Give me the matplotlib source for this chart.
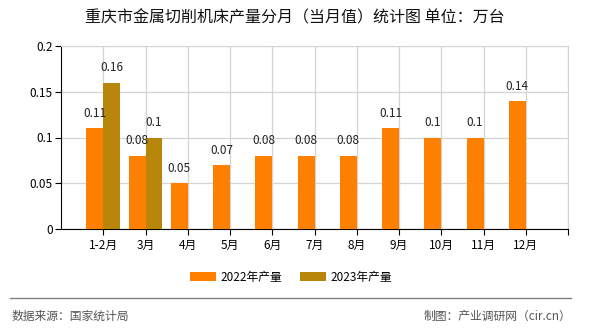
import matplotlib
matplotlib.use("Agg")
import matplotlib.pyplot as plt
import numpy as np

plt.rcParams['font.family'] = ['Noto Sans CJK SC', 'DejaVu Sans']

# === DATA ===
months = ["1-2月", "3月", "4月", "5月", "6月", "7月", "8月", "9月", "10月", "11月", "12月"]
prod_2022 = [0.11, 0.08, 0.05, 0.07, 0.08, 0.08, 0.08, 0.11, 0.1, 0.1, 0.14]
prod_2023 = [0.16, 0.1]
labels_2022 = ["0.11", "0.08", "0.05", "0.07", "0.08", "0.08", "0.08", "0.11", "0.1", "0.1", "0.14"]
labels_2023 = ["0.16", "0.1"]
yticks = [0, 0.05, 0.1, 0.15, 0.2]
ytick_labels = ["0", "0.05", "0.1", "0.15", "0.2"]

c2022 = "#FF8000"
c2023 = "#B8860B"
grid_c = "#d4d4d4"

fig = plt.figure(figsize=(5.9, 3.3), dpi=100)
ax = fig.add_axes([61 / 590, 1 - 229 / 330, 507 / 590, 183 / 330])

x = np.arange(1, len(months) + 1)
x23 = np.arange(1, len(prod_2023) + 1)
width = 0.4

ax.bar(x - width / 2, prod_2022, width, color=c2022, label="2022年产量", zorder=3)
ax.bar(x23 + width / 2, prod_2023, width, color=c2023, label="2023年产量", zorder=3)

for xi, v, s in zip(x, prod_2022, labels_2022):
    ax.annotate(s, (xi - width / 2, v), xytext=(0, 6), textcoords="offset points",
                ha="center", va="bottom", fontsize=8.5, color="#222222")
for xi, v, s in zip(x23, prod_2023, labels_2023):
    ax.annotate(s, (xi + width / 2, v), xytext=(0, 6), textcoords="offset points",
                ha="center", va="bottom", fontsize=8.5, color="#222222")

ax.set_xlim(0, 12)
ax.set_ylim(0, 0.2)
ax.set_xticks(x)
ax.set_xticklabels(months, fontsize=8.5)
ax.set_xticks([12], minor=True)
ax.set_yticks(yticks)
ax.set_yticklabels(ytick_labels, fontsize=8.5)
ax.tick_params(axis="both", which="both", length=4, width=0.8, color="black", pad=2)
ax.tick_params(axis="x", pad=3)

# grid: horizontal at y ticks, vertical at category ticks and right edge
ax.grid(True, axis="y", color=grid_c, linewidth=0.9, zorder=0)
for xv in list(x) + [12]:
    ax.axvline(xv, color=grid_c, linewidth=0.9, zorder=0)

ax.spines["top"].set_color(grid_c)
ax.spines["right"].set_color(grid_c)
ax.spines["left"].set_color("black")
ax.spines["bottom"].set_color("black")

fig.text(0.5, 1 - 18 / 330, "重庆市金属切削机床产量分月（当月值）统计图 单位：万台",
         ha="center", va="center", fontsize=11.5, color="#111111")

fig.legend(loc="center", bbox_to_anchor=(291 / 590, 1 - 277 / 330), ncol=2, frameon=False,
           fontsize=8.5, handlelength=2.2, handleheight=0.9, columnspacing=1.5, handletextpad=0.4)

# footer
fig.add_artist(plt.Line2D([10 / 590, 571 / 590], [1 - 298 / 330, 1 - 298 / 330],
                          color="#808080", linewidth=1.0))
fig.text(12 / 590, 1 - 316 / 330, "数据来源：国家统计局", ha="left", va="center",
         fontsize=8.5, color="#555555")
fig.text(571 / 590, 1 - 316 / 330, "制图：产业调研网（cir.cn）", ha="right", va="center",
         fontsize=8.5, color="#555555")

fig.savefig("out.png", dpi=100)
